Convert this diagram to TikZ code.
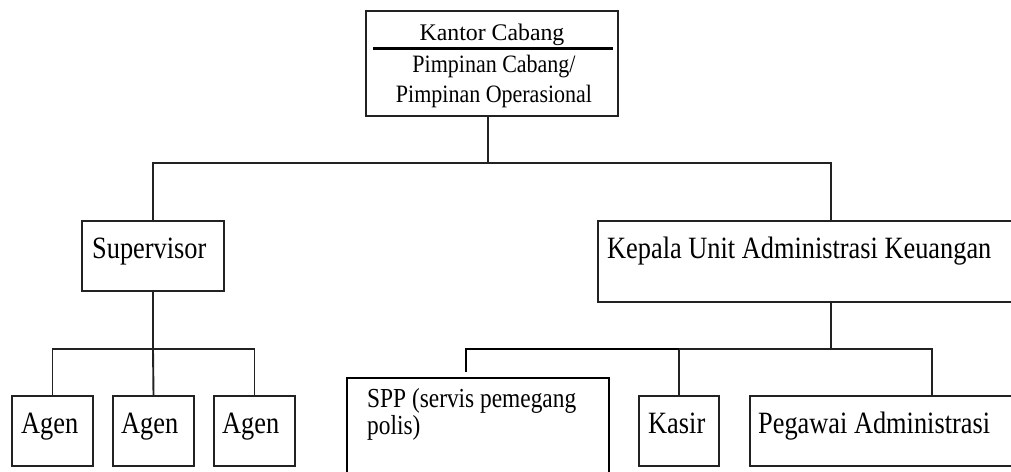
\documentclass[tikz,border=0pt]{standalone}
\usepackage{fontspec}
\setmainfont{Liberation Serif}
\newfontfamily\tnr[FakeStretch=0.85]{Liberation Serif}
\newfontfamily\tnrb[FakeStretch=0.88]{Liberation Serif}
\usetikzlibrary{fit,calc}
\definecolor{ink}{HTML}{222222}
\tikzset{
  box/.style={draw=ink, line width=1.9pt, inner sep=0pt, rectangle},
  boxb/.style={draw=black, line width=2.3pt, inner sep=0pt, rectangle},
  link/.style={draw=ink, line width=1.9pt},
  linkb/.style={draw=black, line width=2.3pt},
  lbl/.style={anchor=base west, inner sep=0pt, font=\tnr\fontsize{31}{31}\selectfont},
  sppl/.style={anchor=base west, inner sep=0pt, align=left, font=\tnr\fontsize{27.5}{22}\selectfont},
  headl/.style={anchor=base, inner sep=0pt}
}
\begin{document}
\begin{tikzpicture}[x=1pt, y=-1pt]
\useasboundingbox (0,0) rectangle (1011,471);
\clip (0,0) rectangle (1011,471);
\fill[white] (0,0) rectangle (1011,471);

% boxes
\node[box, fit={(366,11) (618,116)}] (top) {};
\node[box, fit={(82,221) (224,291)}] (sup) {};
\node[box, fit={(598,221) (1064,302)}] (kep) {};
\node[box, fit={(12,396) (93,466)}] (ag1) {};
\node[box, fit={(113,396) (194,466)}] (ag2) {};
\node[box, fit={(214,396) (295,466)}] (ag3) {};
\node[boxb, fit={(347,378) (609,490)}] (spp) {};
\node[box, fit={(639,396) (719,466)}] (kas) {};
\node[box, fit={(750,396) (1114,466)}] (peg) {};

% header of the branch office box
\draw[draw=black, line width=3pt] ($(top.north west)+(8,38)$) -- ($(top.north east)+(-6,38)$);
\node[headl, font=\fontsize{23.8}{24}\selectfont] (t1) at (492,40) {Kantor Cabang};
\node[headl, font=\tnrb\fontsize{25}{25}\selectfont] (t2) at (494,72) {Pimpinan Cabang/};
\node[headl, font=\tnrb\fontsize{25}{25}\selectfont] (t3) at (494,102) {Pimpinan Operasional};

% labels
\node[lbl] (tsup) at (92,258) {Supervisor};
\node[lbl] (tkep) at (607,258) {Kepala Unit Administrasi Keuangan};
\node[lbl] (ta1) at (21,433) {Agen};
\node[lbl] (ta2) at (121,433) {Agen};
\node[lbl] (ta3) at (222,433) {Agen};
\node[lbl] (tkas) at (648,433) {Kasir};
\node[lbl] (tpeg) at (758,433) {Pegawai Administrasi};
% the base anchor of a two-line node sits on its last line
\node[sppl] (tspp) at (367,434) {SPP (servis pemegang\\polis)};

% connectors
\coordinate (bt) at (488,163);
\coordinate (b0) at (153,349);
\coordinate (b2) at (831,349);
\draw[link] ([xshift=-4pt]top.south) -- (bt);
\draw[link] (sup.north) |- (bt) -| (kep.north);
\draw[link] (sup.south) -- (b0);
\draw[link] (ag1.north) |- (b0) -| (ag3.north);
\draw[link] (ag2.north) -- (b0);
\draw[link] (kep.south) -- (b2);
\draw[link] (kas.north) |- (b2) -| (peg.north);
\draw[linkb] ([xshift=120pt, yshift=5pt]spp.north west) |- (kas.north |- b2);
\end{tikzpicture}
\end{document}
